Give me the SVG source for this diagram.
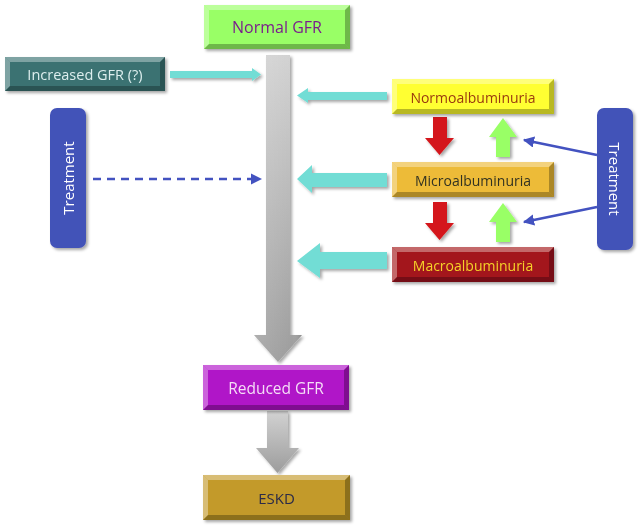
<svg xmlns="http://www.w3.org/2000/svg" width="642" height="527" viewBox="0 0 642 527">
<defs>
<style>
text{font-family:"Open Sans","Liberation Sans",sans-serif;text-anchor:middle;dominant-baseline:central}
.hl{fill:#fff;opacity:0.35}
.dk{fill:#000;opacity:0.28}
.cy{fill:#72DDD5}
.red{fill:#D4161A}
.grn{fill:#99FF66}
.blue{stroke:#4352C0;stroke-width:2.5;fill:none}
</style>
<filter id="sh" x="-10%" y="-10%" width="130%" height="140%">
<feDropShadow dx="2" dy="2" stdDeviation="1.5" flood-color="#000" flood-opacity="0.35"/>
</filter>
<linearGradient id="gv" x1="0" y1="0" x2="0" y2="1">
<stop offset="0" stop-color="#D2D2D2"/>
<stop offset="1" stop-color="#9C9C9C"/>
</linearGradient>
<linearGradient id="gh" x1="0" y1="0" x2="1" y2="0">
<stop offset="0" stop-color="#fff" stop-opacity="0.15"/>
<stop offset="0.8" stop-color="#fff" stop-opacity="0"/>
<stop offset="1" stop-color="#000" stop-opacity="0.15"/>
</linearGradient>
<marker id="ah" viewBox="0 0 10 10" refX="9" refY="5" markerWidth="4.5" markerHeight="4.5" orient="auto">
<path d="M0,0 L10,5 L0,10 z" fill="#4352C0"/>
</marker>
</defs>

<g id="connectors">
<g id="gray-main" filter="url(#sh)">
<path d="M266,55 H290 V335 H302 L278,362 L254,335 H266 Z" fill="url(#gv)"/>
<path d="M266,55 H290 V335 H302 L278,362 L254,335 H266 Z" fill="url(#gh)"/>
</g>
<g id="gray-lower" filter="url(#sh)">
<path d="M267,411 H288 V448 H299 L277.5,473 L256,448 H267 Z" fill="url(#gv)"/>
</g>
<g filter="url(#sh)">
<path class="cy" d="M170,71 H252 V68 L261,74.5 L252,81 V78 H170 Z"/>
<path class="cy" d="M387,92 H308 V88 L297,95.5 L308,103 V100 H387 Z"/>
<path class="cy" d="M387,173 H312 V165 L297,179 L312,193 V187 H387 Z"/>
<path class="cy" d="M387,252 H320 V243 L297,261 L320,278 V269 H387 Z"/>
<path class="red" d="M433,117 H447 V138 H454 L439.5,155 L425,138 H433 Z"/>
<path class="red" d="M433,202 H447 V223 H454 L439.5,240 L425,223 H433 Z"/>
<path class="grn" d="M496,157 H510 V137 H517 L503,118 L489,137 H496 Z"/>
<path class="grn" d="M496,242 H510 V222 H517 L503,203 L489,222 H496 Z"/>
</g>
<line class="blue" x1="597" y1="155" x2="524" y2="140" marker-end="url(#ah)"/>
<line class="blue" x1="597" y1="207" x2="524" y2="222" marker-end="url(#ah)"/>
<line class="blue" x1="93" y1="179" x2="261" y2="179" stroke-dasharray="8,6" marker-end="url(#ah)"/>
</g>

<g id="normal-gfr" filter="url(#sh)">
<rect x="204" y="5" width="146" height="44" fill="#99FF66"/>
<path class="hl" d="M204,5 H350 L345,10 H209 Z"/>
<path class="hl" d="M204,5 L209,10 V44 L204,49 Z"/>
<path class="dk" d="M350,5 V49 L345,44 V10 Z"/>
<path class="dk" d="M204,49 H350 L345,44 H209 Z"/>
<text x="277" y="27" font-size="16" fill="#7A1E8C">Normal GFR</text>
</g>

<g id="increased-gfr" filter="url(#sh)">
<rect x="5" y="57" width="160" height="34" fill="#3A7272"/>
<path class="hl" d="M5,57 H165 L160,62 H10 Z"/>
<path class="hl" d="M5,57 L10,62 V86 L5,91 Z"/>
<path class="dk" d="M165,57 V91 L160,86 V62 Z"/>
<path class="dk" d="M5,91 H165 L160,86 H10 Z"/>
<text x="85" y="74" font-size="14.5" fill="#DDEEEE">Increased GFR (?)</text>
</g>

<g id="normo" filter="url(#sh)">
<rect x="392" y="79" width="162" height="35" fill="#FFFF33"/>
<path class="hl" d="M392,79 H554 L549,84 H397 Z"/>
<path class="hl" d="M392,79 L397,84 V109 L392,114 Z"/>
<path class="dk" d="M554,79 V114 L549,109 V84 Z"/>
<path class="dk" d="M392,114 H554 L549,109 H397 Z"/>
<text x="473" y="97" font-size="14" fill="#9A3A10">Normoalbuminuria</text>
</g>

<g id="micro" filter="url(#sh)">
<rect x="392" y="162" width="162" height="35" fill="#EDBB38"/>
<path class="hl" d="M392,162 H554 L549,167 H397 Z"/>
<path class="hl" d="M392,162 L397,167 V192 L392,197 Z"/>
<path class="dk" d="M554,162 V197 L549,192 V167 Z"/>
<path class="dk" d="M392,197 H554 L549,192 H397 Z"/>
<text x="473" y="180" font-size="14" fill="#333322">Microalbuminuria</text>
</g>

<g id="macro" filter="url(#sh)">
<rect x="392" y="247" width="162" height="35" fill="#A3161A"/>
<path class="hl" d="M392,247 H554 L549,252 H397 Z"/>
<path class="hl" d="M392,247 L397,252 V277 L392,282 Z"/>
<path class="dk" d="M554,247 V282 L549,277 V252 Z"/>
<path class="dk" d="M392,282 H554 L549,277 H397 Z"/>
<text x="473" y="265" font-size="14" fill="#F5D22A">Macroalbuminuria</text>
</g>

<g id="reduced-gfr" filter="url(#sh)">
<rect x="203" y="365" width="146" height="45" fill="#B012C8"/>
<path class="hl" d="M203,365 H349 L344,370 H208 Z"/>
<path class="hl" d="M203,365 L208,370 V405 L203,410 Z"/>
<path class="dk" d="M349,365 V410 L344,405 V370 Z"/>
<path class="dk" d="M203,410 H349 L344,405 H208 Z"/>
<text x="276" y="388" font-size="15.5" fill="#F4DDF6">Reduced GFR</text>
</g>

<g id="eskd" filter="url(#sh)">
<rect x="203" y="475" width="147" height="45" fill="#C39A2A"/>
<path class="hl" d="M203,475 H350 L345,480 H208 Z"/>
<path class="hl" d="M203,475 L208,480 V515 L203,520 Z"/>
<path class="dk" d="M350,475 V520 L345,515 V480 Z"/>
<path class="dk" d="M203,520 H350 L345,515 H208 Z"/>
<text x="276.5" y="498" font-size="15" fill="#2A2A48">ESKD</text>
</g>

<g id="treatment-left" filter="url(#sh)">
<rect x="50" y="108" width="36" height="140" rx="7" fill="#4352B8"/>
<text x="68" y="178" font-size="15" fill="#FFFFFF" transform="rotate(-90 68 178)">Treatment</text>
</g>

<g id="treatment-right" filter="url(#sh)">
<rect x="597" y="108" width="36" height="142" rx="7" fill="#4352B8"/>
<text x="615" y="179" font-size="15" fill="#FFFFFF" transform="rotate(90 615 179)">Treatment</text>
</g>
</svg>
